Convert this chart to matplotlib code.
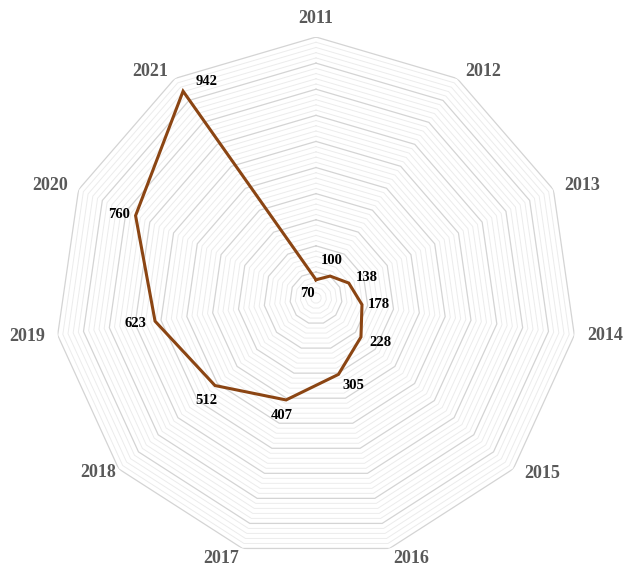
import numpy as np
import matplotlib
matplotlib.use('Agg')
import matplotlib.pyplot as plt

# 数据
years = ['2011', '2012', '2013', '2014', '2015', '2016',
         '2017', '2018', '2019', '2020', '2021']
values = [70, 100, 138, 178, 228, 305, 407, 512, 623, 760, 942]

# 数据标签偏移(单位: 点)
label_offsets = [(-6, -10), (1, 11), (13, 4), (12, 0), (14, -4), (11, -8),
                 (-3, -11), (-6, -11), (-14, -2), (-12, 1), (17, 7)]
# 分类标签相对外圈顶点的偏移(单位: 像素)
year_offsets = [(0, -19), (26, -7), (29, -4), (31, 0), (29, 5), (22, 10),
                (-21, 10), (-21, 4), (-30, 1), (-28, -4), (-25, -7)]

plt.rcParams['font.family'] = ['Liberation Serif', 'DejaVu Serif']

fig = plt.figure(figsize=(6.25, 5.68), dpi=100)
ax = fig.add_axes([0.088, 0.0158, 0.8352, 0.919], projection='polar')
ax.set_theta_zero_location('N')
ax.set_theta_direction(-1)
ax.set_ylim(0, 1000)
ax.grid(False)
ax.spines['polar'].set_visible(False)
ax.set_xticks([])
ax.set_yticks([])

n = len(years)
angles = np.linspace(0, 2 * np.pi, n, endpoint=False)
ring = np.append(angles, angles[0])

# 网格(多边形)
for r in range(20, 1001, 20):
    if r % 100 == 0:
        ax.plot(ring, [r] * len(ring), color='#d4d4d4', lw=0.9, zorder=1)
    else:
        ax.plot(ring, [r] * len(ring), color='#ececec', lw=0.7, zorder=1)

# 折线
ax.plot(ring, values + values[:1], color='#8B4513', lw=2.2, zorder=3,
        solid_joinstyle='miter')

# 数据标签
for a, v, off in zip(angles, values, label_offsets):
    ax.annotate(str(v), (a, v), xytext=off, textcoords='offset points',
                ha='center', va='center', fontsize=10.5, fontweight='bold',
                color='black', zorder=4)

# 分类标签
for a, y, off in zip(angles, years, year_offsets):
    ax.annotate(y, (a, 1000), xytext=(off[0] * 0.72, -off[1] * 0.72),
                textcoords='offset points', ha='center', va='center',
                fontsize=13, fontweight='bold', color='#595959',
                annotation_clip=False)

fig.savefig('out.png', dpi=100)
